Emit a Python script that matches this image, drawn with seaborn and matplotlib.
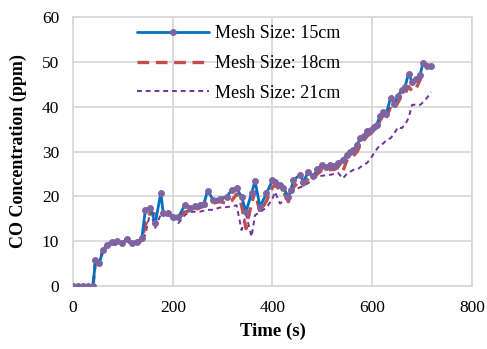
import numpy as np
import pandas as pd
import matplotlib
matplotlib.use("Agg")
import matplotlib.pyplot as plt
import seaborn as sns

time_s = [0, 10, 20, 30, 40, 45, 53, 60, 68, 78, 88, 98, 108, 118, 128, 138, 145, 155, 165, 176,
          181, 191, 201, 211, 224, 234, 245, 255, 262, 270, 281, 294, 308, 318, 328, 338, 347, 358,
          365, 375, 388, 400, 405, 415, 422, 432, 437, 442, 455, 462, 472, 482, 490, 499, 507, 515,
          524, 532, 541, 549, 556, 562, 570, 576, 583, 590, 597, 603, 609, 616, 622, 628, 637, 644,
          652, 659, 666, 673, 680, 688, 696, 702, 710, 718]

mesh15 = [0, 0, 0, 0, 0, 5.8, 5.2, 8.0, 9.1, 9.9, 10.1, 9.5, 10.4, 9.5, 9.9, 10.6, 17.0, 17.5, 14.0, 20.8,
          16.2, 16.2, 15.5, 15.3, 18.0, 17.3, 17.8, 18.0, 18.2, 21.3, 19.2, 19.5, 19.9, 21.4, 21.8, 19.9, 16.6, 20.7,
          23.4, 17.7, 20.7, 23.6, 23.3, 22.5, 21.8, 19.9, 21.5, 23.6, 24.8, 23.3, 25.5, 24.5, 26.0, 27.0, 26.5, 27.0,
          26.8, 27.4, 28.2, 29.2, 29.8, 30.3, 31.5, 33.0, 33.5, 34.5, 34.8, 35.5, 36.0, 38.0, 38.9, 38.4, 42.0, 40.7,
          42.4, 43.7, 44.5, 47.4, 45.6, 46.3, 47.1, 49.8, 49.0, 49.1]

mesh18 = [0, 0, 0, 0, 0, 5.5, 5.5, 8.0, 9.0, 9.6, 9.8, 9.7, 9.9, 9.6, 9.8, 10.3, 13.5, 16.5, 16.0, 16.0,
          16.3, 16.0, 15.3, 15.0, 16.5, 16.8, 17.0, 17.5, 17.8, 18.0, 18.5, 18.8, 18.5, 19.0, 20.5, 18.0, 12.8, 18.5,
          21.0, 16.5, 19.0, 22.0, 22.5, 21.5, 21.0, 18.8, 20.5, 22.0, 23.5, 22.5, 24.0, 23.8, 25.0, 25.8, 25.5, 26.0,
          26.0, 26.5, 25.5, 28.0, 28.5, 29.0, 30.0, 31.5, 32.5, 33.5, 34.0, 34.5, 35.0, 37.0, 38.0, 37.5, 40.0, 39.5,
          41.0, 42.5, 43.0, 44.5, 43.5, 44.0, 46.0, 47.8, np.nan, np.nan]

mesh21 = [0, 0, 0, 0, 0, 5.0, 5.5, 7.5, 9.0, 9.5, 9.0, 9.3, 9.8, 9.4, 9.6, 9.8, 11.5, 16.5, 13.0, 16.0,
          16.0, 15.6, 15.0, 14.0, 15.8, 16.5, 16.6, 16.6, 16.8, 17.0, 17.0, 17.5, 17.6, 17.8, 18.0, 12.5, 16.0, 11.0,
          15.8, 16.5, 17.5, 19.5, 21.0, 18.4, 19.0, 20.0, 21.0, 21.4, 22.0, 22.3, 23.0, 24.0, 24.4, 24.6, 24.7, 24.8,
          25.0, 25.2, 24.0, 25.0, 25.5, 25.9, 26.0, 26.5, 27.0, 27.5, 28.5, 29.5, 30.5, 31.5, 31.8, 32.5, 33.0, 34.0,
          35.5, 35.2, 36.0, 37.5, 40.4, 40.5, 40.4, 41.0, 42.0, 43.3]

labels = ["Mesh Size: 15cm", "Mesh Size: 18cm", "Mesh Size: 21cm"]
x_ticks = [0, 200, 400, 600, 800]
y_ticks = [0, 10, 20, 30, 40, 50, 60]

sns.set_theme(style="white")
plt.rcParams['font.family'] = ['Liberation Serif', 'DejaVu Serif']
plt.rcParams['text.color'] = 'black'
plt.rcParams['axes.labelcolor'] = 'black'
plt.rcParams['xtick.color'] = 'black'
plt.rcParams['ytick.color'] = 'black'

fig = plt.figure(figsize=(4.87, 3.49), dpi=100)
ax = fig.add_axes([0.150, 0.1805, 0.819, 0.7705])

df15 = pd.DataFrame({"t": time_s, "v": mesh15})
df18 = pd.DataFrame({"t": time_s, "v": mesh18}).dropna()
df21 = pd.DataFrame({"t": time_s, "v": mesh21})

sns.lineplot(data=df15, x="t", y="v", ax=ax, color="#0070C0", lw=2.0,
             marker="o", markersize=4.2, markerfacecolor="#8064A2", markeredgecolor="#8064A2",
             label=labels[0], zorder=4)
sns.lineplot(data=df18, x="t", y="v", ax=ax, color="#C0504D", lw=2.4,
             label=labels[1], zorder=3)
ax.lines[-1].set_dashes([3.5, 2.0])
sns.lineplot(data=df21, x="t", y="v", ax=ax, color="#7030A0", lw=1.4,
             label=labels[2], zorder=2)
ax.lines[-1].set_dashes([2.5, 2.0])

ax.set_xlim(0, 800)
ax.set_ylim(0, 60)
ax.set_xticks(x_ticks)
ax.set_yticks(y_ticks)
ax.tick_params(axis="both", labelsize=12.5, length=0, pad=10, colors="black")
ax.grid(True, color="#D9D9D9", lw=1.3)
for s in ax.spines.values():
    s.set_color("#D9D9D9")
    s.set_linewidth(1.3)
ax.set_xlabel("Time (s)", fontsize=13.5, fontweight="bold", color="black")
ax.set_ylabel("CO Concentration (ppm)", fontsize=13, fontweight="bold", color="black")
ax.xaxis.set_label_coords(0.5, -0.135)
ax.yaxis.set_label_coords(-0.115, 0.5)

ax.legend(loc="upper left", bbox_to_anchor=(0.12, 1.03), frameon=False, fontsize=13,
          handlelength=4.0, handletextpad=0.3, labelspacing=0.7)

fig.savefig("out.png", dpi=100)
